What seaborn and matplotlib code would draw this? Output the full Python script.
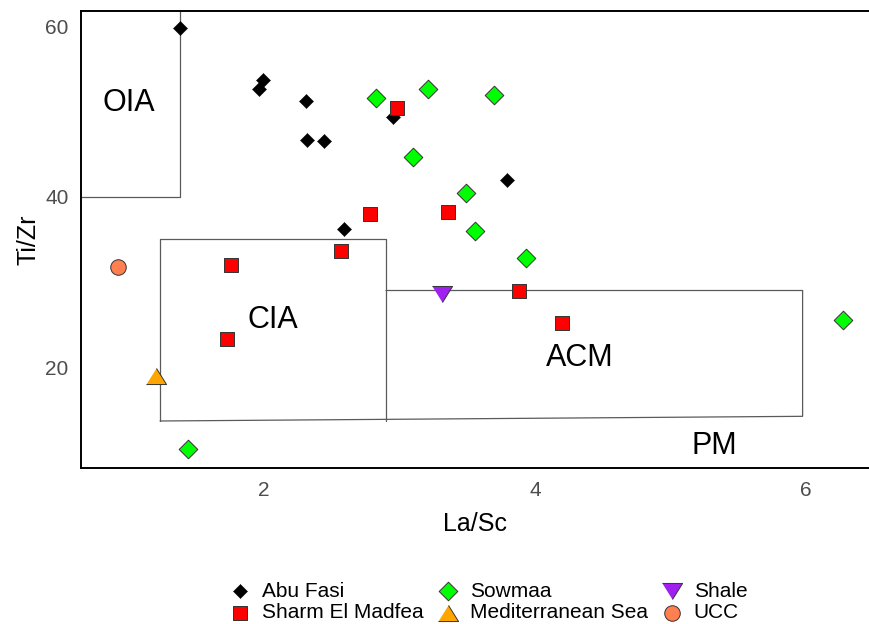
import matplotlib
matplotlib.use("Agg")
import matplotlib.pyplot as plt
import seaborn as sns
import pandas as pd

# ---- data ----
abu_x = [1.38, 1.99, 1.96, 2.31, 2.32, 2.44, 2.95, 3.79, 2.59]
abu_y = [59.9, 53.8, 52.7, 51.3, 46.7, 46.6, 49.4, 42.0, 36.2]

sharm_x = [2.98, 2.78, 3.36, 1.76, 2.57, 1.73, 3.88, 4.20]
sharm_y = [50.5, 38.0, 38.2, 32.0, 33.6, 23.3, 29.0, 25.2]

sow_x = [2.83, 3.21, 3.70, 3.10, 3.49, 3.56, 3.93, 6.27, 1.44]
sow_y = [51.6, 52.7, 52.0, 44.7, 40.5, 36.0, 32.8, 25.5, 10.4]

med_x = [1.20]
med_y = [18.9]

shale_x = [3.31]
shale_y = [28.6]

ucc_x = [0.92]
ucc_y = [31.8]

groups = ["Abu Fasi", "Sharm El Madfea", "Sowmaa", "Mediterranean Sea", "Shale", "UCC"]

# tectonic field boundaries
oia_x = [0.5, 1.38, 1.38]
oia_y = [40, 40, 63]
cia_x = [1.233, 1.233, 2.90, 2.90]
cia_y = [13.65, 35, 35, 13.65]
acm_x = [2.90, 5.975, 5.975, 1.233]
acm_y = [29.0, 29.0, 14.2, 13.65]

field_labels = ["OIA", "CIA", "ACM", "PM"]
field_lx = [1.0, 2.066, 4.33, 5.32]
field_ly = [51.1, 25.5, 21.1, 10.7]

x_ticks = [2, 4, 6]
y_ticks = [20, 40, 60]

# ---- style ----
sns.set_theme(style="white")
plt.rcParams["font.family"] = ["Liberation Sans", "DejaVu Sans"]

up_tri = [(-1, -0.8), (1, -0.8), (0, 0.8)]
down_tri = [(-1, 0.8), (1, 0.8), (0, -0.8)]

styles = {
    "Abu Fasi": dict(marker="D", color="black", s=52, edgecolor="black", linewidth=0.3),
    "Sharm El Madfea": dict(marker="s", color="#FF0000", s=92, edgecolor="#333333", linewidth=0.7),
    "Sowmaa": dict(marker="D", color="#00FF00", s=90, edgecolor="#333333", linewidth=0.7),
    "Mediterranean Sea": dict(marker=up_tri, color="#FFA500", s=210, edgecolor="#333333", linewidth=0.7),
    "Shale": dict(marker=down_tri, color="#A020F0", s=210, edgecolor="#333333", linewidth=0.7),
    "UCC": dict(marker="o", color="#FF7F50", s=125, edgecolor="#333333", linewidth=0.7),
}
data = {
    "Abu Fasi": (abu_x, abu_y),
    "Sharm El Madfea": (sharm_x, sharm_y),
    "Sowmaa": (sow_x, sow_y),
    "Mediterranean Sea": (med_x, med_y),
    "Shale": (shale_x, shale_y),
    "UCC": (ucc_x, ucc_y),
}

fig = plt.figure(figsize=(8.69, 6.24), dpi=100)
ax = fig.add_axes([81 / 869, 1 - 468 / 624, 1 - 81 / 869, (468 - 11) / 624])

line_kw = dict(color="#5a5a5a", linewidth=0.9, zorder=1)
ax.plot(oia_x, oia_y, **line_kw)
ax.plot(cia_x, cia_y, **line_kw)
ax.plot(acm_x, acm_y, **line_kw)

for g in groups:
    xs, ys = data[g]
    df = pd.DataFrame({"La/Sc": xs, "Ti/Zr": ys})
    sns.scatterplot(data=df, x="La/Sc", y="Ti/Zr", ax=ax, label=g, zorder=3, **styles[g])

for t, lx, ly in zip(field_labels, field_lx, field_ly):
    ax.text(lx, ly, t, ha="center", va="center", fontsize=22, color="black", zorder=2)

ax.set_xlim(0.6494, 6.465)
ax.set_ylim(8.12, 61.88)
ax.set_xticks(x_ticks)
ax.set_yticks(y_ticks)
ax.tick_params(axis="both", length=0, labelsize=15, labelcolor="#4D4D4D")
ax.tick_params(axis="x", pad=9)
ax.tick_params(axis="y", pad=9)
for side in ["left", "bottom", "top"]:
    ax.spines[side].set_visible(True)
    ax.spines[side].set_color("black")
    ax.spines[side].set_linewidth(1.4)
ax.spines["right"].set_visible(False)

ax.set_xlabel("La/Sc", fontsize=18, color="black", labelpad=9)
ax.set_ylabel("Ti/Zr", fontsize=18, color="black", labelpad=3)

handles, labels = ax.get_legend_handles_labels()
if ax.legend_:
    ax.legend_.remove()
leg = fig.legend(handles, labels, ncol=3, loc="center", bbox_to_anchor=(486 / 869, 1 - 602 / 624),
                 frameon=False, fontsize=15, columnspacing=0.4, handletextpad=0.3,
                 labelspacing=0.1, borderaxespad=0, handlelength=1.5)
for t in leg.get_texts():
    t.set_color("black")

fig.savefig("out.png", dpi=100)
